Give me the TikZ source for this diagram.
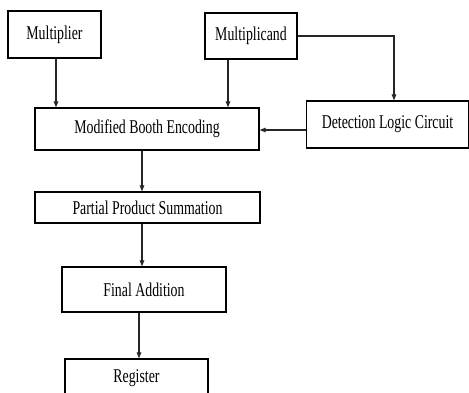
\documentclass[tikz,border=0pt]{standalone}
\usepackage{fontspec}
\setmainfont{Liberation Serif}[FakeStretch=0.71]
\usetikzlibrary{arrows.meta}
\begin{document}
\begin{tikzpicture}[x=1pt,y=-1pt,
  blk/.style={draw=black,line width=1.3pt,rectangle,inner sep=0pt,
    font=\fontsize{19.5}{22}\selectfont},
  arr/.style={draw=black!85,line width=1.1pt,-{Triangle[length=6pt,width=4.5pt]}}]
\clip (0,0) rectangle (469,392);
\fill[white] (0,0) rectangle (469,392);

% processing blocks
\node[blk,minimum width=93pt,minimum height=47pt] (mult) at (54.5,34.5) {Multiplier};
\node[blk,minimum width=92pt,minimum height=46pt] (mcand) at (251,36) {Multiplicand};
\node[blk,minimum width=224pt,minimum height=42pt] (mbe) at (147,129) {Modified Booth Encoding};
\node[blk,minimum width=162pt,minimum height=47pt] (dlc) at (387.5,124.5) {Detection Logic Circuit};
\node[blk,minimum width=225pt,minimum height=31pt] (pps) at (147.5,207.5) {Partial Product Summation};
\node[blk,minimum width=164pt,minimum height=45pt] (fa) at (144,289.5) {Final Addition};
\node[blk,minimum width=143pt,minimum height=44pt,text depth=0pt] (reg) at (136.5,381) {\raisebox{9pt}{Register}};

% connector columns and rows
\coordinate (cA) at (56,0);
\coordinate (cB) at (228,0);
\coordinate (cC) at (394,0);
\coordinate (cD) at (0,130);
\coordinate (cE) at (142,0);
\coordinate (cF) at (139,0);

% data flow
\draw[arr] (mult.south -| cA) -- (mbe.north -| cA);
\draw[arr] (mcand.south -| cB) -- (mbe.north -| cB);
\draw[arr] (mcand.east) -| (dlc.north -| cC);
\draw[arr] (dlc.west |- cD) -- (mbe.east |- cD);
\draw[arr] (mbe.south -| cE) -- (pps.north -| cE);
\draw[arr] (pps.south -| cE) -- (fa.north -| cE);
\draw[arr] (fa.south -| cF) -- (reg.north -| cF);
\end{tikzpicture}
\end{document}
